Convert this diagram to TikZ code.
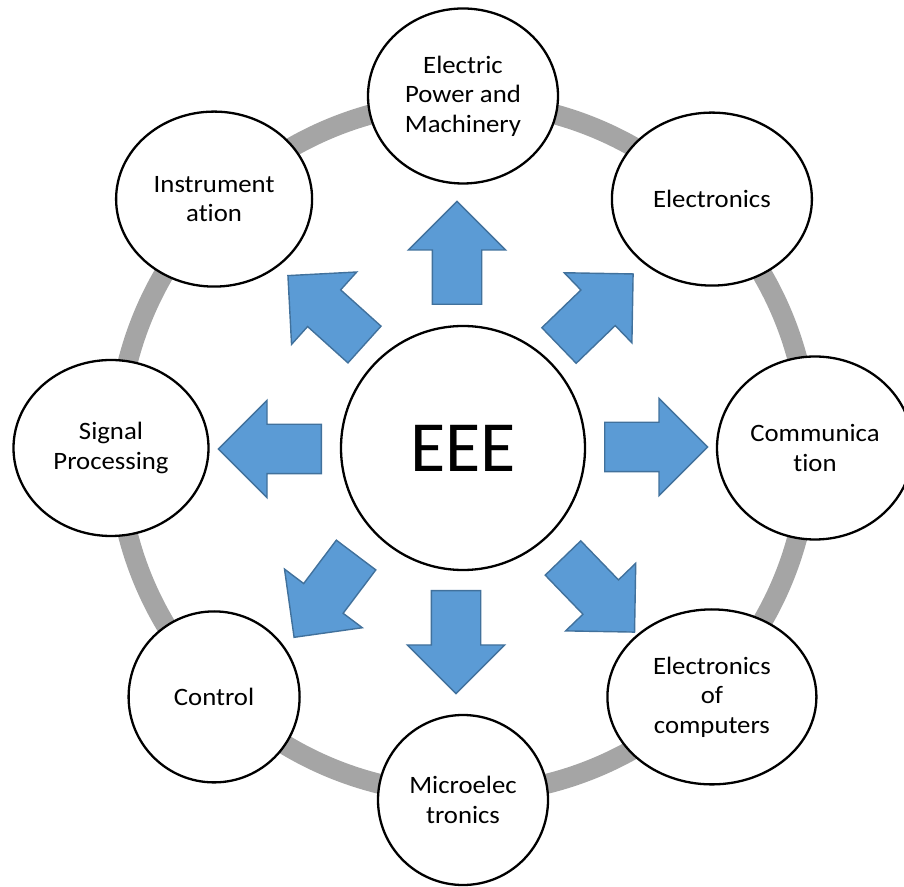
\documentclass[tikz,border=0pt]{standalone}
\usepackage{fontspec}
\setmainfont{Carlito}
\newfontfamily\topicfont{Carlito}[FakeStretch=1.07, Ligatures=NoCommon]
\usetikzlibrary{shapes.geometric,shapes.arrows}
\definecolor{ringgray}{HTML}{A5A5A5}
\definecolor{arrowfill}{HTML}{5B9BD5}
\definecolor{arrowline}{HTML}{41719C}

\begin{document}
\begin{tikzpicture}[
        x=1pt, y=1pt,
        topic/.style={
            ellipse,
            draw=black,
            line width=2.3pt,
            fill=white,
            inner sep=0pt,
            align=center,
            font=\topicfont\fontsize{25}{29.5}\selectfont
        },
        hub/.style={
            circle,
            draw=black,
            line width=2.3pt,
            fill=white,
            inner sep=0pt,
            minimum size=244pt,
            font=\fontsize{72}{80}\selectfont
        },
        push/.style={
            single arrow,
            single arrow tip angle=90,
            single arrow head extend=24pt,
            minimum height=103pt,
            inner xsep=0pt,
            inner ysep=24pt,
            fill=arrowfill,
            draw=arrowline,
            line width=1.4pt,
            anchor=tail
        },
        ring/.style={
            draw=ringgray,
            line width=20pt
        }
    ]
        \useasboundingbox (0,0) rectangle (904,886);
        \clip (0,0) rectangle (904,886);

        \node[hub] (eee) at (463,438) {EEE};

        % grey ring behind the outer topics
        \draw[ring] (eee.center) circle[radius=346pt];

        \node[topic, minimum width=190pt, minimum height=175pt] (power) at ([shift={(90:352)}]eee) {Electric\\Power and\\Machinery};
        \node[topic, minimum width=200pt, minimum height=173pt] (elec) at ([shift={(45:352)}]eee) {Electronics};
        \node[topic, minimum width=196pt, minimum height=183pt] (comm) at ([shift={(0:352)}]eee) {Communica\\tion};
        \node[topic, minimum width=209pt, minimum height=175pt] (comp) at ([shift={(-45:352)}]eee) {Electronics\\of\\computers};
        \node[topic, minimum width=170pt, minimum height=170pt] (micro) at ([shift={(-90:352)}]eee) {Microelec\\tronics};
        \node[topic, minimum width=171pt, minimum height=171pt] (ctrl) at ([shift={(-135:352)}]eee) {Control};
        \node[topic, minimum width=195pt, minimum height=176pt] (signal) at ([shift={(180:352)}]eee) {Signal\\Processing};
        \node[topic, minimum width=196pt, minimum height=175pt] (instr) at ([shift={(135:352)}]eee) {Instrument\\ation};

        % block arrows from the hub
        \node[push, rotate=90] (toPower) at ([shift={(-6,143)}]eee) {};
        \node[push, rotate=44] (toElec) at ([shift={(95.5,102)}]eee) {};
        \node[push, rotate=0] (toComm) at ([shift={(141,1)}]eee) {};
        \node[push, rotate=-46] (toComp) at ([shift={(99.5,-109.5)}]eee) {};
        \node[push, rotate=-90] (toMicro) at ([shift={(-7,-142)}]eee) {};
        \node[push, rotate=-127] (toCtrl) at ([shift={(-106.5,-106.5)}]eee) {};
        \node[push, rotate=180] (toSignal) at ([shift={(-141,-1)}]eee) {};
        \node[push, rotate=138] (toInstr) at ([shift={(-98,103)}]eee) {};
\end{tikzpicture}
\end{document}
